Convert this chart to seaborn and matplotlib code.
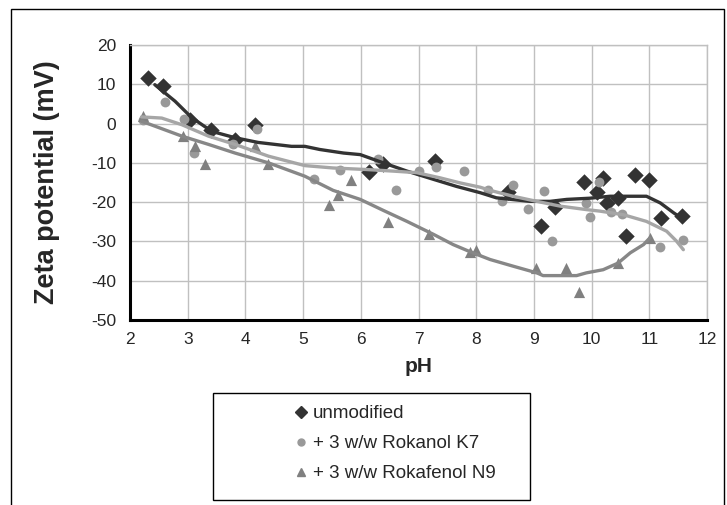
import matplotlib
matplotlib.use("Agg")
import matplotlib.pyplot as plt
from matplotlib.lines import Line2D
from matplotlib.patches import Rectangle
import pandas as pd
import seaborn as sns

# measured points
unmod_ph = [2.32, 2.58, 3.04, 3.40, 3.82, 4.17, 6.14, 6.39, 7.29, 8.55, 9.12, 9.37, 9.86, 10.10,
            10.20, 10.27, 10.46, 10.59, 10.75, 11.00, 11.21, 11.56]
unmod_zeta = [11.6, 9.5, 0.8, -1.7, -4.1, -0.4, -12.3, -10.3, -9.6, -17.5, -26.1, -21.2, -14.8, -17.5,
              -13.8, -20.2, -18.9, -28.7, -13.2, -14.4, -24.0, -23.6]

k7_ph = [2.23, 2.60, 2.94, 3.11, 3.79, 4.20, 5.19, 5.64, 6.30, 6.61, 7.00, 7.30, 7.79, 8.20, 8.45,
         8.63, 8.90, 9.18, 9.32, 9.90, 9.98, 10.12, 10.33, 10.53, 11.19, 11.58]
k7_zeta = [0.8, 5.4, 1.2, -7.5, -5.3, -1.4, -14.1, -11.7, -8.9, -17.0, -12.0, -11.1, -12.1, -16.8, -19.8,
           -15.6, -21.7, -17.2, -29.8, -20.2, -23.7, -14.8, -22.6, -23.0, -31.4, -29.7]

n9_ph = [2.23, 2.92, 3.13, 3.30, 4.17, 4.40, 5.45, 5.60, 5.83, 6.48, 7.19, 7.90, 8.00, 9.03, 9.55,
         9.78, 10.46, 11.01]
n9_zeta = [2.0, -3.2, -5.8, -10.4, -5.8, -10.4, -20.6, -18.1, -14.4, -25.1, -28.2, -32.7, -32.2, -36.7,
           -36.7, -42.9, -35.5, -29.1]

# smoothed trend lines
unmod_fit_ph = [2.43, 2.78, 3.07, 3.42, 3.82, 4.22, 4.80, 5.03, 5.29, 5.70, 5.99, 6.39, 6.80, 7.26,
                7.66, 8.07, 8.35, 8.93, 9.28, 9.57, 9.97, 10.32, 10.95, 11.19, 11.42, 11.59]
unmod_fit_zeta = [9.9, 5.7, 1.5, -2.0, -3.6, -4.8, -5.8, -5.8, -6.6, -7.5, -7.9, -10.0, -12.1, -14.2,
                  -16.0, -17.6, -18.9, -19.8, -19.8, -19.3, -19.0, -18.5, -18.5, -20.2, -22.7, -24.4]

k7_fit_ph = [2.2, 2.55, 2.9, 3.36, 3.82, 4.4, 5.03, 5.52, 6.1, 6.56, 6.97, 7.37, 7.72, 8.07, 8.24,
             8.64, 9.05, 9.45, 9.91, 10.15, 10.55, 10.95, 11.3, 11.47, 11.59]
k7_fit_zeta = [1.7, 1.4, -0.3, -3.2, -5.3, -8.3, -10.7, -11.3, -11.7, -12.1, -12.5, -13.8, -15.1, -16.2,
               -17.0, -18.5, -19.8, -21.0, -21.9, -22.3, -23.2, -24.9, -27.4, -29.9, -32.1]

n9_fit_ph = [2.2, 2.9, 3.36, 3.82, 4.4, 5.03, 5.52, 5.99, 6.39, 6.8, 7.26, 7.6, 7.89, 8.24, 8.64,
             9.05, 9.16, 9.74, 9.91, 10.2, 10.46, 10.67, 10.9, 11.01]
n9_fit_zeta = [0.6, -3.2, -5.3, -7.5, -10.0, -13.4, -17.0, -19.3, -22.1, -24.9, -28.2, -30.8, -32.6, -34.6,
               -36.3, -38.0, -38.7, -38.7, -38.0, -37.2, -35.5, -32.9, -30.8, -29.1]

labels = ["unmodified", "+ 3 w/w Rokanol K7", "+ 3 w/w Rokafenol N9"]
point_colors = ["#333333", "#999999", "#808080"]
line_colors = ["#333333", "#a6a6a6", "#878787"]
markers = ["D", "o", "^"]
sizes = [70, 50, 65]

points = [(unmod_ph, unmod_zeta), (k7_ph, k7_zeta), (n9_ph, n9_zeta)]
fits = [(unmod_fit_ph, unmod_fit_zeta), (k7_fit_ph, k7_fit_zeta), (n9_fit_ph, n9_fit_zeta)]

sns.set_style("white")
plt.rcParams["font.family"] = ["Liberation Sans", "DejaVu Sans"]
plt.rcParams["axes.unicode_minus"] = False

fig = plt.figure(figsize=(7.27, 5.05), dpi=100, facecolor="white")
W, H = 727, 505
ax = fig.add_axes([130 / W, 1 - 320 / H, (707 - 130) / W, (320 - 45) / H])

# points first, lines drawn on top
for (x, y), c, m, s in zip(points, point_colors, markers, sizes):
    df = pd.DataFrame({"pH": x, "zeta": y})
    sns.scatterplot(data=df, x="pH", y="zeta", color=c, marker=m, s=s, linewidth=0, ax=ax, zorder=3)
for (x, y), c in zip(fits, line_colors):
    df = pd.DataFrame({"pH": x, "zeta": y})
    sns.lineplot(data=df, x="pH", y="zeta", color=c, lw=2.4, sort=False, estimator=None, ax=ax, zorder=4)

ax.set_xlim(2, 12)
ax.set_ylim(-50, 20)
ax.set_xticks(range(2, 13))
ax.set_yticks(range(-50, 21, 10))
ax.grid(True, color="#c0c0c0", lw=1)
ax.set_axisbelow(True)
for side in ["top", "right"]:
    ax.spines[side].set_color("#c0c0c0")
    ax.spines[side].set_linewidth(1)
for side in ["left", "bottom"]:
    ax.spines[side].set_color("black")
    ax.spines[side].set_linewidth(2.2)
ax.tick_params(axis="y", direction="out", length=4, width=2, labelsize=12.5, pad=6)
ax.tick_params(axis="x", direction="inout", length=7, width=2, labelsize=12.5, pad=5)

ax.set_xlabel("pH", fontsize=15, fontweight="bold")
ax.set_ylabel("Zeta potential (mV)", fontsize=19.5, fontweight="bold")
ax.xaxis.set_label_coords(0.5, -0.135)
ax.yaxis.set_label_coords(-0.122, 0.5)

# legend box and entries
fig.patches.append(Rectangle((213 / W, 1 - 500 / H), (530 - 213) / W, (500 - 393) / H,
                             transform=fig.transFigure, fill=False, ec="black", lw=1))
handles = [Line2D([], [], ls="none", marker=m, color=c, markersize=ms)
           for m, c, ms in zip(markers, point_colors, [6, 5, 6])]
fig.legend(handles, labels, loc="upper left", bbox_to_anchor=(282 / W, 1 - 396 / H),
           frameon=False, fontsize=13.5, handletextpad=0.15, handlelength=1.0, labelspacing=0.68,
           borderpad=0)

# outer chart frame
fig.patches.append(Rectangle((11 / W, -0.05), (724 - 11) / W, 1.05 - 9 / H,
                             transform=fig.transFigure, fill=False, ec="black", lw=1))

fig.savefig("out.png", dpi=100)
